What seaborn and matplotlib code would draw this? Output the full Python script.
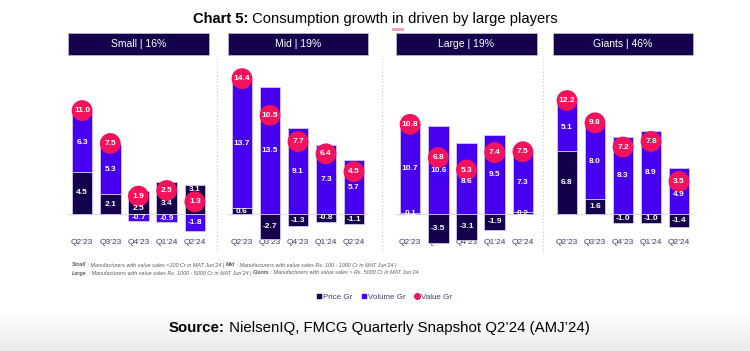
import numpy as np
import matplotlib
matplotlib.use('Agg')
import matplotlib.pyplot as plt
from matplotlib.patches import Rectangle
from matplotlib.lines import Line2D
import seaborn as sns

quarters = ['Q2’23', 'Q3’23', 'Q4’23', 'Q1’24', 'Q2’24']
segments = ['Small | 16%', 'Mid | 19%', 'Large | 19%', 'Giants | 46%']

small_price = [4.5, 2.1, 2.5, 3.4, 3.1]
small_volume = [6.3, 5.3, -0.7, -0.9, -1.8]
small_value = [11.0, 7.5, 1.9, 2.5, 1.3]

mid_price = [0.6, -2.7, -1.3, -0.8, -1.1]
mid_volume = [13.7, 13.5, 9.1, 7.3, 5.7]
mid_value = [14.4, 10.5, 7.7, 6.4, 4.5]

large_price = [0.1, -3.5, -3.1, -1.9, 0.2]
large_volume = [10.7, 10.6, 8.6, 9.5, 7.3]
large_value = [10.8, 6.8, 5.3, 7.4, 7.5]

giants_price = [6.8, 1.6, -1.0, -1.0, -1.4]
giants_volume = [5.1, 8.0, 8.3, 8.9, 4.9]
giants_value = [12.2, 9.8, 7.2, 7.8, 3.5]

PRICE_C = '#14004b'
VOLUME_C = '#4600ef'
VALUE_C = '#f2135c'
TICK_C = '#3c3c64'

sns.set_theme(style='white')
plt.rcParams['font.family'] = ['Liberation Sans', 'DejaVu Sans']

W, H = 750, 351
fig = plt.figure(figsize=(W / 100, H / 100), dpi=100)
renderer = fig.canvas.get_renderer()


def fx(px):
    return px / W


def fy(py):
    return 1 - py / H


def rich_text(parts, x, y, size, color='black', ha='center', **kw):
    # draw a line made of (text, weight, style) parts, side by side
    texts = []
    for s, weight, style in parts:
        t = fig.text(0, y, s, fontsize=size, fontweight=weight, fontstyle=style,
                     color=color, va='center', ha='left', **kw)
        texts.append(t)
    widths = [t.get_window_extent(renderer).width / W for t in texts]
    total = sum(widths)
    start = x - total / 2 if ha == 'center' else x
    for t, w in zip(texts, widths):
        t.set_x(start)
        start += w
    return texts


# bottom grey gradient band
bg = fig.add_axes([0, 0, 1, fy(310)])
grad = np.linspace(0, 1, 50).reshape(-1, 1)
bg.imshow(grad, aspect='auto', cmap=matplotlib.colors.LinearSegmentedColormap.from_list('g', ['#ebebeb', '#ffffff']),
          extent=[0, 1, 0, 1], origin='lower')
bg.axis('off')
bg.set_zorder(-5)

panels = [
    (small_price, small_volume, small_value, 68, 209, 9.4),
    (mid_price, mid_volume, mid_value, 228, 368, 9.4),
    (large_price, large_volume, large_value, 396, 537, 8.3),
    (giants_price, giants_volume, giants_value, 553, 693, 9.3),
]

top_px, zero_px, bot_px = 62, 214, 250

for (price, volume, value, x0, x1, scale), name in zip(panels, segments):
    ax = fig.add_axes([fx(x0), fy(bot_px), fx(x1 - x0), (bot_px - top_px) / H])
    price = np.array(price)
    volume = np.array(volume)
    vol_bottom = np.where(np.sign(volume) == np.sign(price), price, 0.0)

    sns.barplot(x=quarters, y=price, color=PRICE_C, saturation=1, width=0.73,
                edgecolor='#cfc8f2', linewidth=0.6, ax=ax, zorder=2)
    sns.barplot(x=quarters, y=volume, color=VOLUME_C, saturation=1, width=0.73,
                bottom=vol_bottom, edgecolor='#cfc8f2', linewidth=0.6, ax=ax, zorder=2)
    sns.scatterplot(x=np.arange(len(quarters)), y=value, s=225, color=VALUE_C,
                    edgecolor='none', ax=ax, zorder=4, legend=False)

    ax.set_xlim(-0.5, len(quarters) - 0.5)
    ax.set_ylim(-(bot_px - zero_px) / scale, (zero_px - top_px) / scale)
    ax.axhline(0, color='#e2e2e2', lw=1.0, zorder=1)
    ax.set_xticks([])
    ax.set_yticks([])
    ax.set_xlabel('')
    ax.set_ylabel('')
    sns.despine(ax=ax, left=True, bottom=True)
    ax.patch.set_alpha(0)

    # quarter labels sit at a fixed height, behind the bars
    for i, q in enumerate(quarters):
        ax.text(i, (bot_px - 242) / (bot_px - top_px), q, transform=ax.get_xaxis_transform(),
                ha='center', va='center', fontsize=6, color=TICK_C, zorder=1.5)

    # segment labels
    for i in range(len(quarters)):
        for base, h in ((0.0, price[i]), (vol_bottom[i], volume[i])):
            mid = base + h / 2
            if abs(mid - value[i]) < 1.15:
                mid = value[i] - 1.35 if mid < value[i] else value[i] + 1.35
            ax.text(i, mid, f'{h:.1f}', ha='center', va='center', fontsize=6,
                    fontweight='bold', color='white', zorder=5)
        ax.text(i, value[i], f'{value[i]:.1f}', ha='center', va='center', fontsize=6,
                fontweight='bold', color='white', zorder=6)

    # header box
    fig.add_artist(Rectangle((fx(x0), fy(55)), fx(x1 - x0), (55 - 33) / H,
                             transform=fig.transFigure, facecolor=PRICE_C, edgecolor='#b8b8c8', lw=0.6))
    fig.text(fx((x0 + x1) / 2), fy(44), name, ha='center', va='center', fontsize=7.5, color='white')

# dotted separators
for xs in (217, 382, 543):
    fig.add_artist(Line2D([fx(xs), fx(xs)], [fy(58), fy(252)], transform=fig.transFigure,
                          color='#c8c8c8', lw=0.8, linestyle=(0, (1, 2))))

# title, with the pink spell-check mark under "in"
title = rich_text([('Chart 5:', 'bold', 'normal'), (' Consumption growth ', 'normal', 'normal'),
                   ('in', 'normal', 'normal'), (' driven by large players', 'normal', 'normal')],
                  0.5, fy(19), 10.6)
bb = title[2].get_window_extent(renderer)
fig.add_artist(Rectangle((bb.x0 / W, fy(31)), bb.width / W, 2.5 / H, transform=fig.transFigure,
                         facecolor='#f4a3b8', edgecolor='none'))

# footnote
foot = '#5a5a5a'
rich_text([('Small', 'bold', 'italic'),
           (' : Manufacturers with value sales <100 Cr in MAT Jun’24 | ', 'normal', 'italic'),
           ('Mid', 'bold', 'italic'),
           (' : Manufacturers with value sales Rs. 100 - 1000 Cr in MAT Jun’24 |', 'normal', 'italic')],
          fx(72), fy(265), 3.9, color=foot, ha='left')
rich_text([('Large', 'bold', 'italic'),
           (' : Manufacturers with value sales Rs. 1000 - 5000 Cr in MAT Jun’24 | ', 'normal', 'italic'),
           ('Giants', 'bold', 'italic'),
           (' : Manufacturers with value sales > Rs. 5000 Cr in MAT Jun’24', 'normal', 'italic')],
          fx(72), fy(273), 3.9, color=foot, ha='left')

# legend
handles = [Line2D([], [], marker='s', linestyle='none', color=PRICE_C, markersize=3.2, label='Price Gr'),
           Line2D([], [], marker='s', linestyle='none', color=VOLUME_C, markersize=3.2, label='Volume Gr'),
           Line2D([], [], marker='o', linestyle='none', color=VALUE_C, markersize=4, label='Value Gr')]
leg = fig.legend(handles=handles, loc='center', bbox_to_anchor=(fx(384), fy(297)), ncol=3, frameon=False,
                 fontsize=5.8, handletextpad=0.1, columnspacing=1.0, handlelength=0.8)
for t in leg.get_texts():
    t.set_color('#40406a')

# source
rich_text([('Source:', 'bold', 'normal'), (' NielsenIQ, FMCG Quarterly Snapshot Q2’24 (AMJ’24)', 'normal', 'normal')],
          fx(379), fy(328), 10.8)

fig.savefig('out.png', dpi=100)
